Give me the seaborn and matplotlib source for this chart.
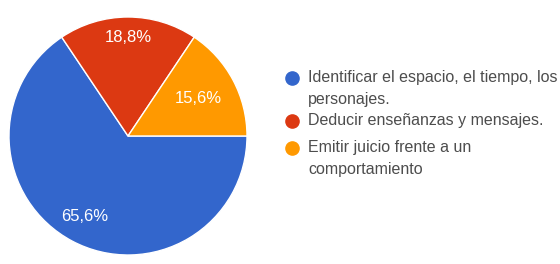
import numpy as np
import seaborn as sns
import matplotlib.pyplot as plt
from matplotlib.lines import Line2D

# datos
categorias = [
    "Identificar el espacio, el tiempo, los\npersonajes.",
    "Deducir enseñanzas y mensajes.",
    "Emitir juicio frente a un\ncomportamiento",
]
porcentajes = [65.6, 18.8, 15.6]
colores = ["#3366cc", "#dc3912", "#ff9900"]

sns.set_theme(style="white")
plt.rcParams["font.family"] = ["Liberation Sans", "DejaVu Sans"]

fig = plt.figure(figsize=(5.6, 2.64), dpi=100)
ax = fig.add_axes([9 / 560, 9 / 264, 238 / 560, 238 / 264])

wedges, _ = ax.pie(
    porcentajes,
    colors=colores,
    startangle=0,
    counterclock=False,
    radius=1,
    wedgeprops={"edgecolor": "white", "linewidth": 1.0},
)
ax.set_xlim(-1, 1)
ax.set_ylim(-1, 1)
ax.set_aspect("equal")
ax.axis("off")

# etiquetas de porcentaje dentro de cada porción
dist_etiqueta = [0.77, 0.83, 0.67]
for w, p, d in zip(wedges, porcentajes, dist_etiqueta):
    ang = np.deg2rad((w.theta1 + w.theta2) / 2)
    ax.text(d * np.cos(ang), d * np.sin(ang), f"{p:.1f}%".replace(".", ","),
            ha="center", va="center", color="white", fontsize=12)

# leyenda manual
y_items = [78, 121, 148]
for cat, col, y in zip(categorias, colores, y_items):
    yf = 1 - y / 264
    fig.add_artist(Line2D([292 / 560], [yf], marker="o", markersize=9.5,
                          color=col, linestyle="none", transform=fig.transFigure))
    fig.text(308 / 560, yf + 8 / 264, cat, ha="left", va="top", fontsize=11.5,
             color="#4d4d4d", linespacing=1.55)

fig.savefig("out.png", dpi=100)
